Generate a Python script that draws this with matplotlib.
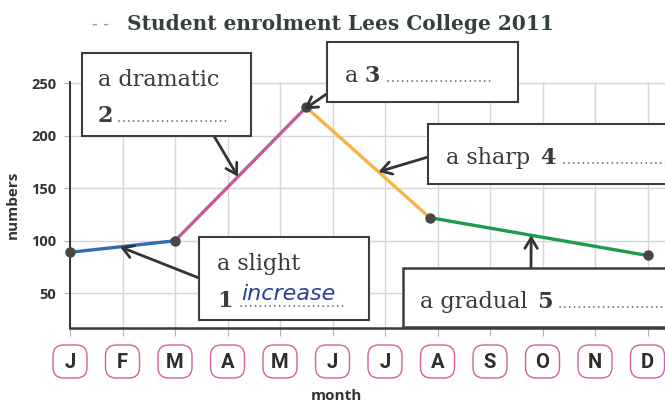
import matplotlib
matplotlib.use("Agg")
import matplotlib.pyplot as plt
from matplotlib.patches import FancyBboxPatch, Rectangle
from matplotlib.lines import Line2D

# ---- data -------------------------------------------------------------
months = ['J', 'F', 'M', 'A', 'M', 'J', 'J', 'A', 'S', 'O', 'N', 'D']
point_month = [0, 2, 4.5, 6.85, 11]        # position along the month axis
enrolment = [89, 100, 227, 122, 86]        # student numbers
segment_colors = ['#2f6eb5', '#c45a9e', '#f6b443', '#1d9a4c']
y_ticks = [50, 100, 150, 200, 250]

W, H = 665, 407
fig = plt.figure(figsize=(W / 100, H / 100), dpi=100)
fig.patch.set_facecolor('white')

ax = fig.add_axes([70 / W, (H - 328) / H, (W - 70) / W, (328 - 81.5) / H])
ax.set_xlim(0, 11.333)
ax.set_ylim(17, 251.5)

# grid
ax.set_xticks(range(len(months)))
ax.set_yticks(y_ticks)
ax.grid(True, color='#d6d6d6', linewidth=1.0)
ax.set_axisbelow(True)
for s in ['top', 'right']:
    ax.spines[s].set_visible(False)
ax.spines['left'].set_color('#333333')
ax.spines['left'].set_linewidth(1.4)
ax.spines['bottom'].set_color('#3a3a3a')
ax.spines['bottom'].set_linewidth(1.8)
ax.tick_params(axis='x', length=6, color='#b0b0b0', labelbottom=False)
ax.tick_params(axis='y', length=4, color='#b0b0b0', pad=6)
for lab in ax.get_yticklabels():
    lab.set_fontfamily('Open Sans')
    lab.set_fontweight('bold')
    lab.set_fontsize(10.5)
    lab.set_color('#333333')

ax.set_ylabel('numbers', fontfamily='Open Sans', fontweight='bold',
              fontsize=11, color='#333333', labelpad=8)

# line segments
for i, c in enumerate(segment_colors):
    ax.plot(point_month[i:i + 2], enrolment[i:i + 2], color=c,
            linewidth=2.4, solid_capstyle='round', zorder=3, clip_on=False)
ax.plot(point_month, enrolment, linestyle='none', marker='o',
        markersize=6.5, color='#474747', zorder=4, clip_on=False)


def px(x, y):
    """Figure fraction from pixel coordinates measured from the top-left."""
    return x / W, 1 - y / H


def box(x0, y0, x1, y1, lw=1.5):
    fig.add_artist(Rectangle(px(x0, y1), (x1 - x0) / W, (y1 - y0) / H,
                             transform=fig.transFigure, facecolor='white',
                             edgecolor='#3d3d3d', linewidth=lw, zorder=5))


def txt(x, y, s, **kw):
    opts = dict(fontfamily='DejaVu Serif', fontsize=16, color='#3a3a3a',
                va='baseline', ha='left', zorder=6)
    opts.update(kw)
    fig.text(*px(x, y), s, **opts)


def dots(x0, x1, y):
    (a, b), (c, d) = px(x0, y), px(x1, y)
    fig.add_artist(Line2D([a, c], [b, d], transform=fig.transFigure,
                          color='#5a5a5a', linewidth=1.2,
                          linestyle=(0, (0.1, 2.8)), dash_capstyle='round',
                          zorder=6))


def point_on(seg, t):
    x = point_month[seg] + t * (point_month[seg + 1] - point_month[seg])
    y = enrolment[seg] + t * (enrolment[seg + 1] - enrolment[seg])
    return x, y


def arrow(seg, t, x, y):
    ax.annotate('', xy=point_on(seg, t), xycoords='data',
                xytext=(x, H - y), textcoords='figure pixels',
                arrowprops=dict(arrowstyle='->,head_length=0.75,head_width=0.45',
                                color='#333333', lw=2.0, shrinkA=0, shrinkB=0),
                zorder=7, annotation_clip=False)


# callout boxes
arrow(1, 0.48, 214, 136)
box(81.5, 53, 250.5, 136)
txt(98, 86, 'a dramatic')
txt(98, 122, '2', fontweight='bold')
dots(119, 227, 121)

arrow(1, 0.985, 328, 93)
box(327, 42, 518, 101.5)
txt(345, 82, 'a ')
txt(365, 82, '3', fontweight='bold')
dots(388, 493, 81)

arrow(2, 0.585, 428, 157)
box(428, 124, 680, 184)
txt(446, 164, 'a sharp')
txt(540, 164, '4', fontweight='bold')
dots(564, 668, 163)

arrow(0, 0.476, 199, 278)
box(199, 237, 369, 320)
txt(217, 270, 'a slight')
txt(217, 307, '1', fontweight='bold')
dots(241, 343, 306)
txt(241, 300, 'increase', fontfamily='DejaVu Sans', fontstyle='italic',
    fontsize=16, color='#2a3f9a')

arrow(3, 0.466, 531, 268)
box(403, 268, 680, 327, lw=1.8)
txt(420, 308, 'a gradual')
txt(537, 308, '5', fontweight='bold')
dots(560, 668, 307)

# month badges under the axis
for i, m in enumerate(months):
    cx = ax.transData.transform((i, 0))[0]
    fig.add_artist(FancyBboxPatch(((cx - 17) / W, (H - 378) / H), 34 / W, 33 / H,
                                  boxstyle='round,pad=0,rounding_size=0.016',
                                  transform=fig.transFigure, facecolor='white',
                                  edgecolor='#d0609f', linewidth=1.0,
                                  mutation_aspect=W / H))
    fig.text(cx / W, 1 - 362 / H, m, ha='center', va='center',
             fontfamily='Roboto', fontweight='bold', fontsize=14.5,
             color='#2e2e2e')

fig.text(*px(336, 396), 'month', ha='center', va='center',
         fontfamily='Open Sans', fontweight='bold', fontsize=11,
         color='#333333')

# title
fig.text(*px(340, 30), 'Student enrolment Lees College 2011', ha='center',
         va='baseline', fontfamily='DejaVu Serif', fontweight='bold',
         fontsize=14.5, color='#34403f')
fig.text(*px(101, 29), '- -', ha='center', va='baseline',
         fontfamily='DejaVu Sans', fontsize=12, color='#9a9a9a')

fig.savefig('out.png', dpi=100)
